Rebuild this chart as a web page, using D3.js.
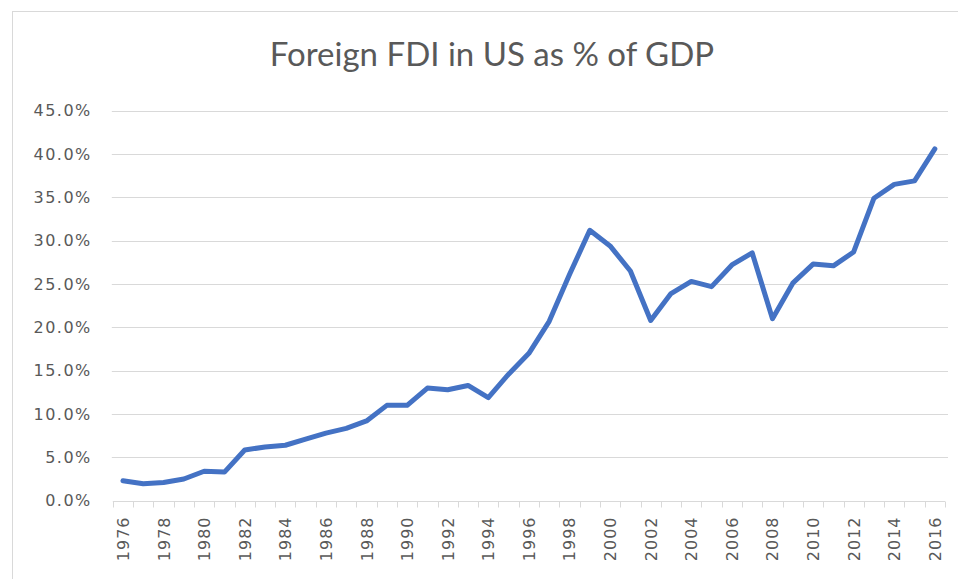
<!DOCTYPE html>
<html>
<head>
<meta charset="utf-8">
<script src="https://cdn.jsdelivr.net/npm/d3@7"></script>
<style>
  html, body { margin: 0; padding: 0; background: #fff; }
  svg { display: block; }
</style>
</head>
<body>
<svg id="chart" width="958" height="579"></svg>
<script>
// ---- data ----
const years = d3.range(1976, 2017).map(String);
const fdiShare = [
  2.3, 1.95, 2.1, 2.5, 3.4, 3.3, 5.85, 6.2, 6.4, 7.1,
  7.8, 8.35, 9.2, 11.0, 11.0, 13.0, 12.8, 13.3, 11.9, 14.6,
  17.0, 20.7, 26.1, 31.2, 29.4, 26.5, 20.8, 23.9, 25.3, 24.7,
  27.2, 28.6, 21.0, 25.1, 27.3, 27.1, 28.7, 34.9, 36.5, 36.9,
  40.6
];
const yTicks = [0, 5, 10, 15, 20, 25, 30, 35, 40, 45];
const xLabelYears = years.filter((d, i) => i % 2 === 0);
const chartTitle = "Foreign FDI in US as % of GDP";

// ---- layout ----
const W = 958, H = 579;
const plot = { left: 112.8, right: 945, top: 110.7, bottom: 500.7 };
const textColor = "#595959", gridColor = "#d9d9d9", lineColor = "#4472C4";

const svg = d3.select("#chart");

// chart area frame (runs off the right / bottom edge like the screenshot)
svg.append("rect")
  .attr("x", 12.5).attr("y", 11.5)
  .attr("width", W + 20).attr("height", H + 20)
  .attr("fill", "#fff").attr("stroke", gridColor);

svg.append("text")
  .attr("x", 492).attr("y", 66)
  .attr("text-anchor", "middle")
  .style("font-family", "Lato, 'Open Sans', sans-serif")
  .style("font-size", "33px")
  .style("fill", textColor)
  .text(chartTitle);

const x = d3.scaleBand().domain(years).range([plot.left, plot.right]).padding(0);
const y = d3.scaleLinear().domain([0, 45]).range([plot.bottom, plot.top]);

// gridlines
svg.append("g").selectAll("line").data(yTicks.filter(d => d > 0)).join("line")
  .attr("x1", plot.left - 1).attr("x2", plot.right + 3)
  .attr("y1", d => Math.round(y(d)) + 0.5).attr("y2", d => Math.round(y(d)) + 0.5)
  .attr("stroke", gridColor).attr("stroke-width", 1);

// y axis labels
const yAxis = svg.append("g")
  .attr("transform", `translate(${plot.left - 1},0)`)
  .call(d3.axisLeft(y).tickValues(yTicks).tickSize(0).tickPadding(20)
    .tickFormat(d => d.toFixed(1) + "%"));
yAxis.select(".domain").remove();
yAxis.selectAll("text")
  .style("font-family", "'DejaVu Sans', sans-serif")
  .style("font-size", "16px")
  .style("letter-spacing", "1.5px")
  .style("fill", textColor);

// x axis: baseline + boundary ticks between categories
const xAxisY = Math.round(y(0)) + 0.5;
const xg = svg.append("g");
xg.append("line")
  .attr("x1", plot.left).attr("x2", plot.right)
  .attr("y1", xAxisY).attr("y2", xAxisY)
  .attr("stroke", gridColor);
const bounds = years.map(d => x(d)).concat([x(years[years.length - 1]) + x.bandwidth()]);
xg.selectAll("line.tick").data(bounds).join("line")
  .attr("class", "tick")
  .attr("x1", d => Math.round(d) + 0.5).attr("x2", d => Math.round(d) + 0.5)
  .attr("y1", xAxisY).attr("y2", xAxisY + 6)
  .attr("stroke", gridColor);

xg.selectAll("text").data(xLabelYears).join("text")
  .attr("transform", d => `translate(${x(d) + x.bandwidth() / 2 + 6},${xAxisY + 15}) rotate(-90)`)
  .attr("text-anchor", "end")
  .style("font-family", "'DejaVu Sans', sans-serif")
  .style("font-size", "16px")
  .style("letter-spacing", "1px")
  .style("fill", textColor)
  .text(d => d);

// series line
const line = d3.line()
  .x((d, i) => x(years[i]) + x.bandwidth() / 2)
  .y(d => y(d));

svg.append("path")
  .datum(fdiShare)
  .attr("d", line)
  .attr("fill", "none")
  .attr("stroke", lineColor)
  .attr("stroke-width", 5)
  .attr("stroke-linejoin", "round")
  .attr("stroke-linecap", "round");
</script>
</body>
</html>
